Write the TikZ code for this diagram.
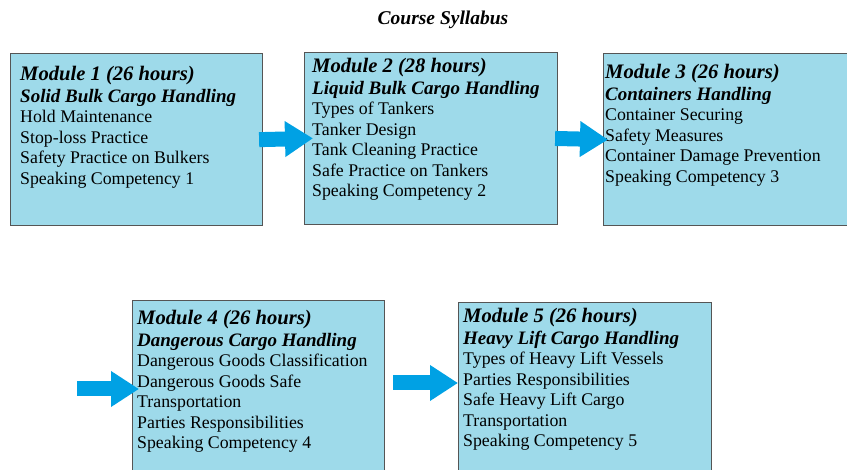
\documentclass[tikz,border=0pt]{standalone}
\usepackage{fontspec}
\setmainfont{Liberation Serif}
\usetikzlibrary{arrows.meta}
\definecolor{boxblue}{RGB}{158,218,234}
\definecolor{arrowblue}{RGB}{0,161,228}
\definecolor{boxline}{RGB}{85,85,85}
\newcommand{\modhead}{\fontsize{20.6}{23}\selectfont\bfseries\itshape}
\newcommand{\modtopic}{\fontsize{19}{21}\selectfont\bfseries\itshape}
\tikzset{
  modbox/.style={
    draw=boxline,
    fill=boxblue,
    line width=1.1pt,
    anchor=north west,
    inner sep=0pt
  },
  modtext/.style={
    anchor=north west,
    align=left,
    inner sep=0pt,
    font=\fontsize{17.8}{20.5}\selectfont
  },
  flow/.style={
    arrowblue,
    line width=15pt,
    -{Triangle[length=28pt,width=34pt]}
  }
}

\begin{document}
\begin{tikzpicture}[x=1pt,y=-1pt]
  \useasboundingbox (0,0) rectangle (847,470);
  \node[font=\fontsize{19.5}{22}\selectfont\bfseries\itshape] (title) at (443,20) {Course Syllabus};

  % top row
  \node[modbox, minimum width=252pt, minimum height=172pt] (m1) at (10,53) {};
  \node[modbox, minimum width=253pt, minimum height=172pt] (m2) at (304,52) {};
  % right box is cut by the page edge
  \node[modbox, minimum width=260pt, minimum height=172pt] (m3) at (603,53) {};
  % bottom row, runs off the page
  \node[modbox, minimum width=252pt, minimum height=190pt] (m4) at (132,300) {};
  \node[modbox, minimum width=253pt, minimum height=190pt] (m5) at (458,302) {};

  \node[modtext] (t1) at ([shift={(10,13.5)}]m1.north west)
    {{\modhead Module 1 (26 hours)}\\[1pt]
     {\modtopic Solid Bulk Cargo Handling}\\
     Hold Maintenance\\
     Stop-loss Practice\\
     Safety Practice on Bulkers\\
     Speaking Competency 1};
  \node[modtext] (t2) at ([shift={(8,6.5)}]m2.north west)
    {{\modhead Module 2 (28 hours)}\\[1pt]
     {\modtopic Liquid Bulk Cargo Handling}\\
     Types of Tankers\\
     Tanker Design\\
     Tank Cleaning Practice\\
     Safe Practice on Tankers\\
     Speaking Competency 2};
  \node[modtext] (t3) at ([shift={(2,11.5)}]m3.north west)
    {{\modhead Module 3 (26 hours)}\\[1pt]
     {\modtopic Containers Handling}\\
     Container Securing\\
     Safety Measures\\
     Container Damage Prevention\\
     Speaking Competency 3};
  \node[modtext] (t4) at ([shift={(5,10.5)}]m4.north west)
    {{\modhead Module 4 (26 hours)}\\[1pt]
     {\modtopic Dangerous Cargo Handling}\\
     Dangerous Goods Classification\\
     Dangerous Goods Safe\\
     Transportation\\
     Parties Responsibilities\\
     Speaking Competency 4};
  \node[modtext] (t5) at ([shift={(5,6.5)}]m5.north west)
    {{\modhead Module 5 (26 hours)}\\[1pt]
     {\modtopic Heavy Lift Cargo Handling}\\
     Types of Heavy Lift Vessels\\
     Parties Responsibilities\\
     Safe Heavy Lift Cargo\\
     Transportation\\
     Speaking Competency 5};

  % arrows between modules
  \coordinate (in4) at (77,389);
  \coordinate (out4) at (393,383);
  \draw[flow, shorten <=-4pt, shorten >=-9pt] (m1.east) -- (m2.west);
  \draw[flow, shorten <=-3pt, shorten >=-5pt] (m2.east) -- (m3.west);
  \draw[flow, shorten >=-7pt] (in4) -- (in4 -| m4.west);
  \draw[flow] (out4) -- (out4 -| m5.west);
\end{tikzpicture}
\end{document}
